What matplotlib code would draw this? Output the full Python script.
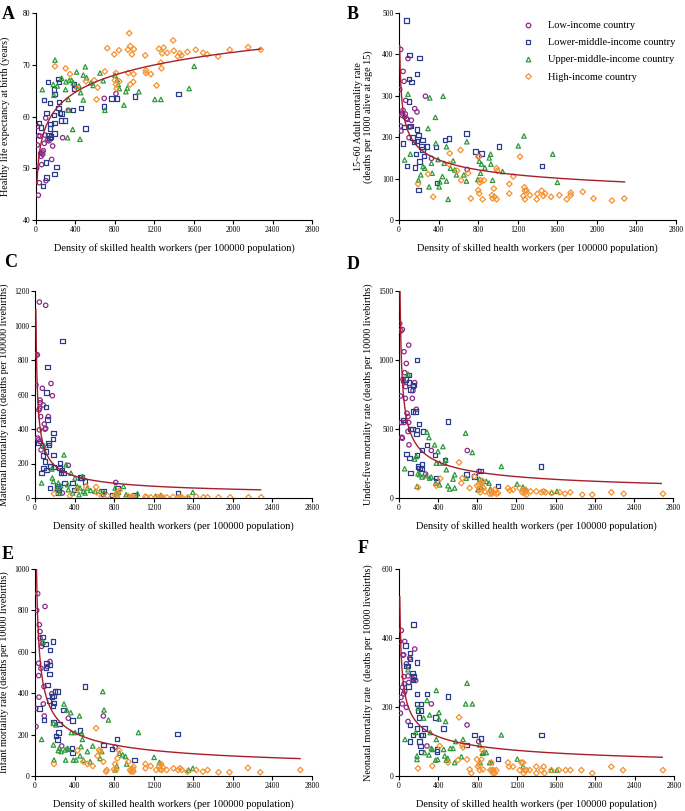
import numpy as np
import matplotlib
matplotlib.use("Agg")
import matplotlib.pyplot as plt
from matplotlib.lines import Line2D

plt.rcParams["font.family"] = ["Liberation Serif", "DejaVu Serif"]

# ----------------------------------------------------
# Data (x = density of skilled health workers, y = indicator)
# ----------------------------------------------------

# A: healthy life expectancy
A_LOW = [(7, 50.0), (14, 54.5), (34, 47.2), (24, 44.8), (14, 58.1), (27, 56.3), (41, 56.2),
         (47, 52.9), (51, 52.3), (57, 50.7), (64, 53.1), (68, 52.7), (74, 53.4), (84, 54.8),
         (91, 56.4), (98, 59.7), (101, 47.6), (115, 55.4), (132, 55.3), (159, 51.7),
         (169, 54.3), (270, 55.9), (328, 61.2), (692, 63.5), (811, 64.4)]
A_LMID = [(30, 58.8), (51, 57.9), (68, 46.6), (81, 63.2), (108, 60.7), (122, 66.7), (101, 51.1),
          (108, 48.2), (142, 62.6), (142, 57.7), (149, 58.6), (125, 56.4), (135, 55.8),
          (150, 56.1), (182, 65.2), (186, 64.4), (182, 60.3), (186, 58.7), (186, 56.7),
          (186, 48.9), (209, 50.2), (230, 67.3), (236, 66.7), (230, 61.7), (236, 62.8),
          (243, 60.7), (253, 59.2), (260, 60.6), (294, 59.2), (378, 61.2), (385, 65.4),
          (385, 66.2), (456, 61.7), (503, 57.7), (689, 61.9), (767, 63.5), (824, 63.5),
          (1003, 63.9), (1446, 64.4)]
A_UMID = [(64, 65.2), (176, 66.2), (182, 64.1), (193, 70.9), (216, 65.9), (260, 67.4),
          (300, 65.2), (304, 66.7), (328, 63.3), (328, 61.2), (338, 67.0), (361, 67.0),
          (321, 55.9), (372, 57.5), (378, 66.5), (412, 68.6), (436, 65.9), (453, 64.6),
          (446, 55.6), (480, 68.0), (500, 69.6), (513, 67.5), (480, 63.2), (557, 66.5),
          (581, 66.0), (649, 68.4), (682, 66.9), (699, 61.2), (801, 68.0), (824, 67.1),
          (834, 66.2), (845, 65.4), (892, 62.2), (912, 64.8), (926, 65.5), (1044, 64.8),
          (1206, 63.3), (1267, 63.3), (1605, 69.7), (1554, 65.4)]
A_HIGH = [(193, 69.7), (300, 69.3), (345, 68.2), (419, 65.4), (507, 66.8), (591, 67.0),
          (625, 65.6), (615, 63.3), (699, 68.7), (723, 73.2), (794, 72.0), (841, 72.8),
          (811, 68.4), (800, 67.0), (811, 66.2), (818, 65.4), (845, 66.8), (932, 72.9),
          (946, 76.1), (956, 73.6), (973, 72.0), (993, 73.0), (936, 68.4), (956, 66.2),
          (986, 66.7), (990, 68.2), (1108, 71.8), (1115, 68.9), (1115, 68.4), (1165, 68.2),
          (1223, 66.0), (1247, 73.1), (1267, 70.4), (1273, 69.3), (1280, 72.2), (1294, 73.3),
          (1331, 72.3), (1392, 74.7), (1398, 72.7), (1439, 71.6), (1459, 72.2), (1476, 71.8),
          (1537, 72.5), (1621, 72.9), (1696, 72.3), (1736, 72.0), (1848, 71.6), (1966, 72.9),
          (2152, 73.4), (2280, 72.9)]

# B: adult mortality
B_LOW = [(7, 315), (17, 412), (14, 227), (20, 215), (41, 359), (51, 335), (30, 253), (41, 265),
         (57, 249), (68, 289), (84, 243), (91, 390), (101, 225), (101, 199), (115, 225),
         (125, 241), (159, 269), (182, 261), (267, 299), (328, 149), (689, 122), (807, 154),
         (36, 258), (64, 256), (75, 245)]
B_LMID = [(74, 482), (108, 398), (101, 340), (128, 333), (101, 286), (209, 392), (182, 352),
          (41, 185), (57, 225), (118, 227), (135, 199), (149, 189), (169, 159), (159, 127),
          (81, 130), (182, 219), (182, 191), (196, 205), (196, 72), (209, 141), (226, 178),
          (236, 193), (236, 170), (250, 154), (284, 178), (372, 177), (385, 90), (463, 193),
          (507, 197), (682, 209), (774, 165), (834, 161), (1010, 178), (1446, 130)]
B_UMID = [(57, 145), (91, 304), (115, 159), (196, 96), (220, 109), (243, 129), (260, 125),
          (294, 221), (311, 295), (304, 80), (328, 137), (335, 113), (372, 185), (368, 248),
          (395, 146), (406, 80), (412, 92), (446, 299), (439, 105), (456, 137), (480, 177),
          (480, 94), (497, 50), (520, 125), (547, 143), (564, 121), (581, 109), (655, 109),
          (686, 189), (682, 94), (797, 98), (811, 142), (824, 113), (834, 135), (868, 126),
          (912, 150), (926, 159), (929, 135), (946, 96), (1047, 117), (1206, 179),
          (1263, 203), (1554, 159), (1601, 91)]
B_HIGH = [(193, 87), (294, 111), (345, 56), (513, 161), (507, 135), (588, 119), (622, 169),
          (628, 96), (699, 113), (726, 52), (801, 153), (801, 72), (811, 64), (817, 90),
          (824, 96), (845, 50), (858, 96), (939, 60), (946, 52), (959, 76), (966, 56),
          (986, 125), (993, 119), (986, 50), (1115, 87), (1115, 64), (1155, 105), (1223, 153),
          (1257, 58), (1267, 79), (1273, 71), (1273, 50), (1290, 71), (1324, 60), (1392, 50),
          (1398, 63), (1442, 71), (1459, 58), (1476, 64), (1537, 56), (1621, 60), (1696, 50),
          (1736, 60), (1736, 66), (1858, 68), (1966, 52), (2152, 47), (2277, 52)]

# C: maternal mortality
C_LOW = [(10, 830), (24, 830), (10, 655), (44, 1136), (108, 1117), (51, 568), (54, 553),
         (57, 472), (44, 395), (61, 279), (74, 636), (84, 539), (94, 429), (101, 399),
         (108, 404), (135, 472), (162, 664), (175, 593), (27, 347), (34, 337), (337, 189),
         (276, 29), (816, 90), (691, 19), (78, 302), (51, 327), (40, 510), (47, 520)]
C_LMID = [(34, 318), (67, 144), (78, 247), (84, 173), (101, 212), (111, 270), (111, 526),
          (118, 612), (118, 164), (125, 761), (128, 456), (135, 318), (142, 308), (152, 183),
          (152, 58), (155, 183), (179, 341), (186, 376), (186, 250), (192, 179), (276, 911),
          (226, 71), (226, 58), (236, 33), (243, 48), (246, 173), (253, 202), (260, 148),
          (270, 164), (287, 144), (297, 87), (381, 87), (394, 48), (455, 119), (472, 119),
          (506, 96), (691, 39), (776, 17), (833, 58), (1005, 17), (1444, 29)]
C_UMID = [(67, 87), (91, 302), (169, 168), (175, 116), (186, 96), (219, 52), (236, 87),
          (253, 29), (260, 71), (293, 250), (314, 193), (331, 77), (337, 48), (364, 144),
          (381, 29), (405, 116), (428, 67), (445, 19), (455, 58), (482, 125), (489, 39),
          (506, 29), (530, 58), (563, 44), (607, 39), (658, 39), (698, 33), (810, 58),
          (826, 25), (833, 10), (843, 33), (894, 67), (921, 19), (944, 10), (1036, 25),
          (1218, 10), (1272, 15), (1552, 4), (1595, 33)]
C_HIGH = [(192, 25), (354, 13), (428, 48), (516, 67), (617, 64), (624, 33), (675, 10),
          (732, 13), (810, 17), (820, 6), (833, 33), (853, 42), (941, 10), (968, 4), (982, 10),
          (995, 4), (1116, 8), (1130, 4), (1170, 4), (1231, 4), (1258, 6), (1275, 4),
          (1292, 4), (1332, 4), (1396, 6), (1447, 4), (1467, 4), (1484, 4), (1545, 4),
          (1629, 8), (1703, 4), (1744, 4), (1855, 4), (1973, 4), (2159, 4), (2287, 4)]

# D: under-five mortality
D_LOW = [(7, 1264), (14, 739), (20, 1211), (34, 1221), (34, 433), (24, 547), (48, 843),
         (51, 547), (51, 1060), (58, 908), (68, 807), (65, 722), (75, 975), (82, 614),
         (92, 590), (92, 482), (99, 1108), (99, 547), (102, 385), (136, 722), (143, 778),
         (160, 836), (177, 643), (272, 173), (330, 344), (698, 344), (817, 193), (41, 860),
         (30, 440)]
D_LMID = [(41, 566), (68, 860), (102, 891), (102, 836), (116, 787), (75, 320), (109, 289),
          (116, 181), (119, 498), (136, 498), (143, 626), (150, 819), (143, 811), (170, 626),
          (177, 462), (184, 999), (184, 494), (184, 313), (194, 229), (204, 537), (211, 217),
          (228, 209), (238, 248), (238, 349), (245, 482), (286, 385), (368, 313), (381, 144),
          (388, 125), (467, 277), (501, 554), (688, 169), (773, 157), (831, 197), (1012, 89),
          (1454, 229)]
D_UMID = [(58, 212), (92, 898), (184, 84), (160, 282), (177, 301), (194, 176), (211, 169),
          (235, 152), (279, 161), (286, 477), (306, 438), (313, 144), (330, 152), (364, 385),
          (375, 108), (381, 253), (398, 337), (415, 253), (415, 96), (449, 373), (467, 253),
          (477, 277), (484, 205), (500, 89), (518, 65), (552, 137), (569, 72), (569, 169),
          (681, 470), (688, 144), (749, 330), (807, 60), (824, 137), (841, 79), (858, 120),
          (892, 120), (920, 108), (933, 65), (1046, 229), (1206, 101), (1267, 79), (1294, 60),
          (1560, 41), (1614, 48)]
D_HIGH = [(194, 77), (381, 89), (422, 140), (613, 258), (637, 108), (647, 144), (722, 72),
          (770, 157), (797, 89), (817, 96), (824, 60), (831, 41), (845, 108), (852, 125),
          (865, 72), (875, 48), (926, 31), (940, 48), (950, 31), (967, 41), (978, 60),
          (995, 31), (1012, 36), (1114, 72), (1131, 55), (1165, 60), (1233, 72), (1260, 41),
          (1274, 55), (1284, 36), (1294, 60), (1301, 22), (1345, 48), (1403, 48), (1454, 41),
          (1478, 48), (1499, 41), (1560, 36), (1642, 41), (1696, 31), (1751, 41), (1873, 24),
          (1975, 24), (2170, 41), (2296, 31), (2698, 31)]

# E: infant mortality
E_LOW = [(7, 327), (10, 239), (17, 800), (27, 881), (40, 381), (44, 731), (51, 698),
         (51, 666), (37, 485), (67, 626), (84, 348), (94, 290), (101, 819), (91, 432),
         (125, 529), (152, 553), (169, 397), (270, 145), (337, 279), (691, 290), (810, 139),
         (37, 545), (60, 520), (75, 640)]
E_LMID = [(44, 327), (74, 671), (94, 271), (108, 639), (111, 521), (125, 440), (118, 545),
          (142, 365), (145, 494), (152, 610), (152, 537), (169, 384), (179, 650), (179, 339),
          (186, 258), (186, 387), (192, 352), (203, 408), (212, 194), (226, 408), (226, 177),
          (236, 210), (246, 252), (287, 319), (371, 134), (381, 110), (381, 268), (455, 219),
          (506, 432), (691, 150), (776, 129), (826, 179), (1005, 77), (1440, 202)]
E_UMID = [(67, 177), (84, 648), (186, 255), (186, 150), (192, 77), (212, 247), (236, 123),
          (246, 134), (263, 118), (293, 348), (304, 126), (310, 77), (320, 319), (327, 134),
          (337, 129), (361, 306), (368, 210), (388, 77), (405, 210), (415, 77), (449, 290),
          (455, 97), (465, 142), (472, 206), (479, 177), (489, 77), (530, 118), (557, 69),
          (584, 145), (658, 85), (675, 118), (685, 408), (698, 319), (742, 271), (810, 29),
          (826, 48), (853, 110), (887, 102), (914, 94), (927, 58), (1046, 210), (1204, 90),
          (1258, 65), (1552, 29), (1595, 37)]
E_HIGH = [(192, 58), (428, 123), (489, 69), (530, 58), (584, 48), (617, 231), (631, 97),
          (648, 126), (658, 118), (691, 69), (718, 21), (725, 29), (799, 32), (810, 58),
          (833, 85), (850, 123), (820, 29), (944, 69), (961, 29), (971, 21), (982, 37),
          (988, 29), (995, 45), (995, 21), (1116, 58), (1116, 37), (1170, 48), (1224, 29),
          (1258, 48), (1264, 32), (1275, 58), (1281, 29), (1292, 42), (1332, 29), (1400, 37),
          (1447, 29), (1467, 37), (1484, 29), (1541, 21), (1629, 29), (1697, 21), (1744, 29),
          (1855, 18), (1966, 18), (2152, 39), (2277, 18), (2682, 29)]

# F: neonatal mortality
F_LOW = [(7, 390), (14, 182), (20, 228), (24, 422), (34, 257), (34, 209), (41, 351), (48, 351),
         (48, 238), (51, 288), (54, 267), (58, 245), (58, 390), (75, 325), (75, 199), (92, 290),
         (92, 158), (99, 271), (109, 342), (143, 281), (149, 279), (160, 368), (170, 277),
         (285, 87), (329, 209), (693, 148), (811, 100)]
F_LMID = [(149, 439), (68, 378), (75, 319), (92, 319), (109, 356), (115, 339), (136, 298),
          (143, 279), (149, 288), (98, 259), (115, 148), (115, 100), (143, 119), (183, 329),
          (183, 238), (183, 209), (183, 138), (193, 190), (204, 170), (210, 100), (217, 87),
          (227, 209), (227, 190), (227, 119), (227, 69), (238, 119), (261, 138), (285, 238),
          (373, 170), (387, 77), (387, 71), (455, 138), (499, 230), (686, 90), (770, 119),
          (838, 109), (1008, 49), (1449, 119)]
F_UMID = [(61, 106), (92, 308), (183, 58), (183, 48), (170, 126), (197, 197), (251, 168),
          (261, 68), (285, 219), (305, 61), (312, 177), (319, 126), (329, 80), (339, 77),
          (373, 46), (380, 106), (380, 248), (394, 48), (407, 184), (407, 165), (455, 77),
          (465, 58), (475, 158), (482, 46), (496, 51), (523, 80), (550, 80), (567, 39),
          (577, 100), (635, 56), (652, 106), (679, 209), (693, 269), (747, 209), (822, 90),
          (828, 39), (849, 66), (862, 68), (889, 68), (923, 39), (940, 39), (1042, 119),
          (1205, 49), (1263, 27), (1551, 17), (1609, 17)]
F_HIGH = [(193, 22), (339, 29), (414, 87), (499, 39), (601, 46), (611, 170), (645, 90),
          (652, 83), (693, 48), (720, 19), (736, 8), (794, 48), (804, 27), (815, 32), (822, 17),
          (838, 48), (849, 75), (855, 19), (930, 17), (940, 39), (950, 17), (957, 8), (964, 17),
          (974, 8), (991, 17), (1110, 39), (1120, 27), (1161, 27), (1229, 17), (1246, 39),
          (1263, 39), (1269, 8), (1280, 17), (1297, 17), (1331, 17), (1398, 27), (1398, 8),
          (1449, 17), (1473, 27), (1483, 8), (1551, 17), (1629, 17), (1697, 17), (1745, 17),
          (1857, 17), (1968, 8), (2162, 27), (2281, 17), (2688, 17)]

# fitted curves: (kind, a, b, x_start, x_end)
# log:   y = a + b * ln(x)      power: y = a * x ** b
FIT_A = ("log", 36.0, 4.79, 10, 2280)
FIT_B = ("power", 703, -0.263, 7, 2280)
FIT_C = ("power", 3798, -0.567, 9, 2280)
FIT_D = ("power", 4653, -0.48, 10.6, 2680)
FIT_E = ("power", 3712, -0.48, 15, 2680)
FIT_F = ("power", 1180, -0.39, 8.2, 2680)

GROUP_LABELS = ["Low-income country", "Lower-middle-income country",
                "Upper-middle-income country", "High-income country"]
GROUP_COLORS = ["#8c2a8a", "#2b3c8c", "#2f9a3c", "#f5922f"]
GROUP_MARKERS = ["o", "s", "^", "D"]

XLABEL = "Density of skilled health workers (per 100000 population)"

PANELS = [
    # letter, groups, fit, ylabel, ylim, ystep, rect(px: left, top, right, bottom)
    ("A", [A_LOW, A_LMID, A_UMID, A_HIGH], FIT_A,
     "Healthy life expectancy at birth (years)", (40, 80), 10, (36, 13, 312, 220)),
    ("B", [B_LOW, B_LMID, B_UMID, B_HIGH], FIT_B,
     "15~60 Adult mortality rate\n(deaths per 1000 alive at age 15)", (0, 500), 100,
     (399, 13, 676, 220)),
    ("C", [C_LOW, C_LMID, C_UMID, C_HIGH], FIT_C,
     "Maternal mortality ratio (deaths per 100000 livebirths)", (0, 1200), 200,
     (35, 291, 312, 498)),
    ("D", [D_LOW, D_LMID, D_UMID, D_HIGH], FIT_D,
     "Under-five mortality rate (deaths per 10000 livebirths)", (0, 1500), 500,
     (399, 291, 673, 498)),
    ("E", [E_LOW, E_LMID, E_UMID, E_HIGH], FIT_E,
     "Infant mortality rate (deaths per 10000 livebirths)", (0, 1000), 200,
     (35, 569, 312, 776)),
    ("F", [F_LOW, F_LMID, F_UMID, F_HIGH], FIT_F,
     "Neonatal mortality rate  (deaths per 10000 livebirths)", (0, 600), 200,
     (399, 569, 674, 776)),
]

LETTER_POS = {"A": (2, 6), "B": (347, 6), "C": (4, 254), "D": (347, 256),
              "E": (2, 546), "F": (358, 540)}

W, H = 685, 811
fig = plt.figure(figsize=(W / 100, H / 100), dpi=100)

for letter, groups, fit, ylabel, ylim, ystep, (l, t, r, b) in PANELS:
    ax = fig.add_axes([l / W, 1 - b / H, (r - l) / W, (b - t) / H])

    for pts, col, mk in zip(groups, GROUP_COLORS, GROUP_MARKERS):
        xs, ys = zip(*pts)
        ms = 10 if mk != "D" else 8
        ax.scatter(xs, ys, s=ms, marker=mk, facecolors="none",
                   edgecolors=col, linewidths=0.9, zorder=3)

    kind, fa, fb, x0, x1 = fit
    xf = np.geomspace(x0, x1, 400)
    yf = fa + fb * np.log(xf) if kind == "log" else fa * xf ** fb
    ax.plot(xf, yf, color="#a81e2c", lw=1.0, zorder=4)

    ax.set_xlim(0, 2800)
    ax.set_ylim(*ylim)
    ax.set_xticks(np.arange(0, 2801, 400))
    ax.set_yticks(np.arange(ylim[0], ylim[1] + 1, ystep))
    ax.spines["top"].set_visible(False)
    ax.spines["right"].set_visible(False)
    for s in ("left", "bottom"):
        ax.spines[s].set_linewidth(0.8)
    ax.tick_params(direction="out", length=3, width=0.8, labelsize=5.5, pad=1)
    ax.set_xlabel(XLABEL, fontsize=7.5, labelpad=6.5)
    ax.set_ylabel(ylabel, fontsize=7.3, linespacing=1.1)
    # all y labels sit at the same distance from their axis in the reference
    ax.yaxis.set_label_coords(-26 / (r - l), 0.5)

    lx, ly = LETTER_POS[letter]
    fig.text(lx / W, 1 - ly / H, letter, fontsize=13, fontweight="bold",
             va="top", ha="left")

# ----------------------------------------------------
# Legend (panel B)
# ----------------------------------------------------
handles = [Line2D([], [], linestyle="none", marker=mk, markersize=3.3 if mk != "D" else 2.9,
                  markerfacecolor="none", markeredgecolor=col, markeredgewidth=0.9)
           for col, mk in zip(GROUP_COLORS, GROUP_MARKERS)]
fig.legend(handles, GROUP_LABELS, loc="upper left",
           bbox_to_anchor=(520 / W, 1 - 21 / H), frameon=False,
           fontsize=7.5, handlelength=1.5, handletextpad=1.2, labelspacing=0.75,
           borderaxespad=0, borderpad=0)

fig.savefig("out.png", dpi=100)
